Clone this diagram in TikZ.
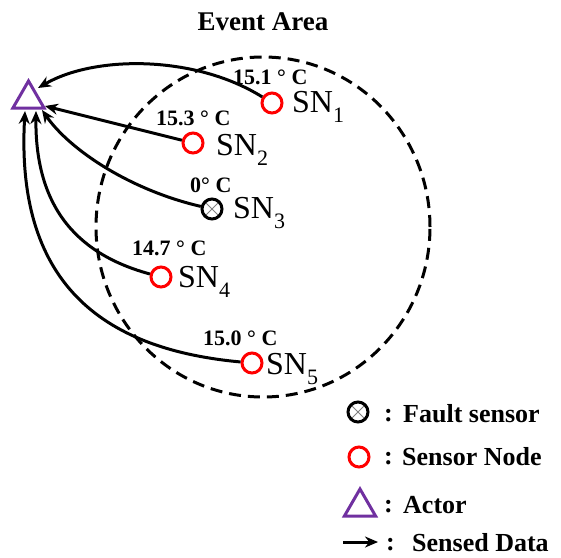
\documentclass[tikz,border=0pt]{standalone}
\usepackage{fontspec}
\setmainfont{Liberation Serif}
\usetikzlibrary{arrows.meta,shapes.geometric}
\definecolor{actorpurple}{RGB}{112,48,160}
\newcommand\snsub[1]{\raisebox{-10pt}{\fontsize{22}{22}\selectfont #1}}
\begin{document}
\begin{tikzpicture}[x=1pt,y=-1pt,
 sn/.style={circle,draw=red,line width=3pt,minimum size=20pt,inner sep=0pt},
 fault/.style={circle,draw=black,line width=3pt,minimum size=20pt,inner sep=0pt,
   path picture={\draw[gray,line width=0.9pt]
     (path picture bounding box.north west)--(path picture bounding box.south east)
     (path picture bounding box.north east)--(path picture bounding box.south west);}},
 actor/.style={regular polygon,regular polygon sides=3,draw=actorpurple,line width=3pt,minimum size=36pt,inner sep=0pt},
 data/.style={line width=3pt,-{Stealth[length=13pt,width=11pt]}},
 temp/.style={font=\fontsize{22}{22}\selectfont\bfseries,anchor=base west,inner sep=0pt},
 snlab/.style={font=\fontsize{32}{32}\selectfont,anchor=base west,inner sep=0pt},
 leg/.style={font=\fontsize{26}{26}\selectfont\bfseries,anchor=base west,inner sep=0pt},
]
\useasboundingbox (0,0) rectangle (561,557);

\node[font=\fontsize{27}{27}\selectfont\bfseries,anchor=base,inner sep=0pt] (title) at (263,30) {Event Area};

\draw[line width=3pt,dash pattern=on 12pt off 7pt] (263,227) ellipse [x radius=167pt, y radius=170pt];

\node[sn] (s1) at (272,103) {};
\node[sn] (s2) at (193,143) {};
\node[fault] (s3) at (212,209) {};
\node[sn] (s4) at (161,277) {};
\node[sn] (s5) at (252,363) {};

\node[snlab] (l1) at (292,112) {SN\snsub{1}};
\node[snlab] (l2) at (216,155) {SN\snsub{2}};
\node[snlab] (l3) at (233,218) {SN\snsub{3}};
\node[snlab] (l4) at (178,287) {SN\snsub{4}};
\node[snlab] (l5) at (266,374) {SN\snsub{5}};

\node[temp] (t1) at (233,84) {15.1 ° C};
\node[temp] (t2) at (156,125) {15.3 ° C};
\node[temp] (t3) at (190,192) {0° C};
\node[temp] (t4) at (132,255) {14.7 ° C};
\node[temp] (t5) at (203,345) {15.0 ° C};

\node[actor] (act) at (28.5,99) {};
\coordinate (a1) at (38,88);
\coordinate (a2) at (45,106);
\coordinate (a3) at (42,110);
\coordinate (a4) at (36,111);
\coordinate (a5) at (25,111);

\draw[data] (s1) .. controls (195,55) and (95,55) .. (a1);
\draw[data] (s2) -- (a2);
\draw[data] (s3) .. controls (130,190) and (70,150) .. (a3);
\draw[data] (s4) .. controls (80,255) and (35,210) .. (a4);
\draw[data] (s5) .. controls (110,350) and (15,290) .. (a5);

% legend
\node[fault] (lf) at (358,412) {};
\node[leg] (c1) at (384,421) {:};
\node[leg] (tf) at (403,422) {Fault sensor};
\node[sn] (ls) at (359,457) {};
\node[leg] (c2) at (384,464) {:};
\node[leg] (ts) at (402,465) {Sensor Node};
\node[actor] (la) at (360,507) {};
\node[leg] (c3) at (384,512) {:};
\node[leg] (ta) at (403,513) {Actor};
\coordinate (d0) at (343,542);
\coordinate (d1) at (378,542);
\draw[data] (d0) -- (d1);
\node[leg] (c4) at (386,550) {:};
\node[leg] (td) at (412,551) {Sensed Data};
\end{tikzpicture}
\end{document}
